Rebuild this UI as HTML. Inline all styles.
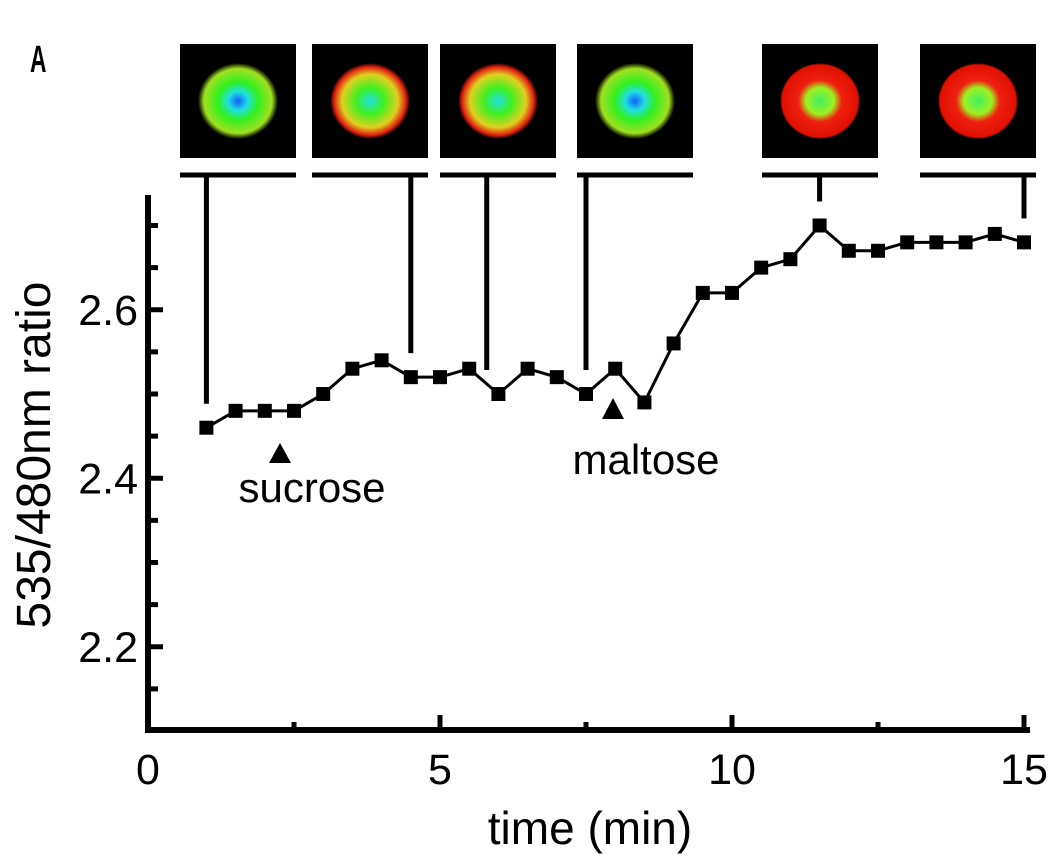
<!DOCTYPE html>
<html><head><meta charset="utf-8"><style>
html,body{margin:0;padding:0;background:#fff;}
svg{display:block;font-family:"Liberation Sans",sans-serif;}
</style></head><body>
<svg id="chart" width="1050" height="855" viewBox="0 0 1050 855">
<defs>
<radialGradient id="gA" cx="50%" cy="50%" r="50%"><stop offset="0" stop-color="#1060ff"/><stop offset="0.25" stop-color="#20e0e0"/><stop offset="0.5" stop-color="#30f020"/><stop offset="0.85" stop-color="#a0e020"/><stop offset="1" stop-color="#000"/></radialGradient>
<radialGradient id="gB" cx="50%" cy="50%" r="50%"><stop offset="0" stop-color="#20e0e0"/><stop offset="0.35" stop-color="#40f020"/><stop offset="0.7" stop-color="#e0d020"/><stop offset="0.9" stop-color="#e02010"/><stop offset="1" stop-color="#000"/></radialGradient>
<radialGradient id="gC" cx="50%" cy="50%" r="50%"><stop offset="0" stop-color="#40f060"/><stop offset="0.35" stop-color="#a0f020"/><stop offset="0.55" stop-color="#f02010"/><stop offset="0.95" stop-color="#e01000"/><stop offset="1" stop-color="#000"/></radialGradient>
</defs>
<text x="30" y="72" font-size="38" font-weight="bold" transform="translate(30,0) scale(0.6,1) translate(-30,0)">A</text>
<g id="thumbs"></g>
<g id="axes"></g>
<g id="series"></g>
<text x="0" y="0" transform="translate(50,455) rotate(-90)" text-anchor="middle" font-size="48">535/480nm ratio</text>
<text x="590" y="844" text-anchor="middle" font-size="46">time (min)</text>
<text x="312" y="502" text-anchor="middle" font-size="42">sucrose</text>
<text x="646" y="474" text-anchor="middle" font-size="42">maltose</text>
<polygon points="280,443 291,463 269,463" fill="#000"/>
<polygon points="613,398 624,419 602,419" fill="#000"/>
</svg>
<script>
const times=[1,1.5,2,2.5,3,3.5,4,4.5,5,5.5,6,6.5,7,7.5,8,8.5,9,9.5,10,10.5,11,11.5,12,12.5,13,13.5,14,14.5,15];
const ratios=[2.46,2.48,2.48,2.48,2.50,2.53,2.54,2.52,2.52,2.53,2.50,2.53,2.52,2.50,2.53,2.49,2.56,2.62,2.62,2.65,2.66,2.70,2.67,2.67,2.68,2.68,2.68,2.69,2.68];
const xTicks=[0,5,10,15];
const yTicks=[2.2,2.4,2.6];
const yTickLabels=["2.2","2.4","2.6"];
const imageTimes=[1,4.5,5.8,7.5,11.5,15];
const imageRatios=[2.46,2.52,2.50,2.50,2.70,2.68];

const NS="http://www.w3.org/2000/svg";
const X=t=>148+t*58.4;
const Y=v=>731-(v-2.1)*842.5;
function mk(tag,attrs,parent){const e=document.createElementNS(NS,tag);for(const k in attrs)e.setAttribute(k,attrs[k]);parent.appendChild(e);return e;}
const axes=document.getElementById('axes'),series=document.getElementById('series'),thumbs=document.getElementById('thumbs');

let l=mk('line',{x1:148,y1:195,x2:148,y2:733,stroke:'#000','stroke-width':6},axes);


l=mk('line',{x1:145,y1:730,x2:1030,y2:730,stroke:'#000','stroke-width':6},axes);


for(let v=2.15;v<2.74;v+=0.05){
  const major=yTicks.some(t=>Math.abs(t-v)<1e-6);
  l=mk('line',{x1:148,y1:Y(v),x2:major?163:158,y2:Y(v),stroke:'#000','stroke-width':5},axes);
  
  
}
yTicks.forEach((v,i)=>{const t=mk('text',{x:138,y:Y(v)+15,'text-anchor':'end','font-size':43},axes);t.textContent=yTickLabels[i];

});
for(let t=2.5;t<=15;t+=2.5){
  const major=xTicks.includes(t);
  l=mk('line',{x1:X(t),y1:730,x2:X(t),y2:major?715:722,stroke:'#000','stroke-width':5},axes);
  
  
}
xTicks.forEach(v=>{const t=mk('text',{x:X(v),y:784,'text-anchor':'middle','font-size':43},axes);t.textContent=String(v);

});

const boxes=[[180,'gA'],[312,'gB'],[440,'gB'],[577,'gA'],[762,'gC'],[920,'gC']];
boxes.forEach((b,i)=>{
  const g=mk('g',{},thumbs);
  
  
  mk('rect',{x:b[0],y:44,width:116,height:114,fill:'#000'},g);
  mk('ellipse',{cx:b[0]+58,cy:101,rx:40,ry:38,fill:'url(#'+b[1]+')'},g);
  const bar=mk('line',{x1:b[0],y1:175,x2:b[0]+116,y2:175,stroke:'#000','stroke-width':5},thumbs);
  
  
  const vx=X(imageTimes[i]);
  const conn=mk('line',{x1:vx,y1:175,x2:vx,y2:Y(imageRatios[i])-24,stroke:'#000','stroke-width':5},thumbs);
  
  
});

const pl=mk('polyline',{points:times.map((t,i)=>X(t)+','+Y(ratios[i])).join(' '),fill:'none',stroke:'#000','stroke-width':3},series);


times.forEach((t,i)=>{const r=mk('rect',{x:X(t)-7,y:Y(ratios[i])-7,width:14,height:14,fill:'#000'},series);

});
</script>
</body></html>
